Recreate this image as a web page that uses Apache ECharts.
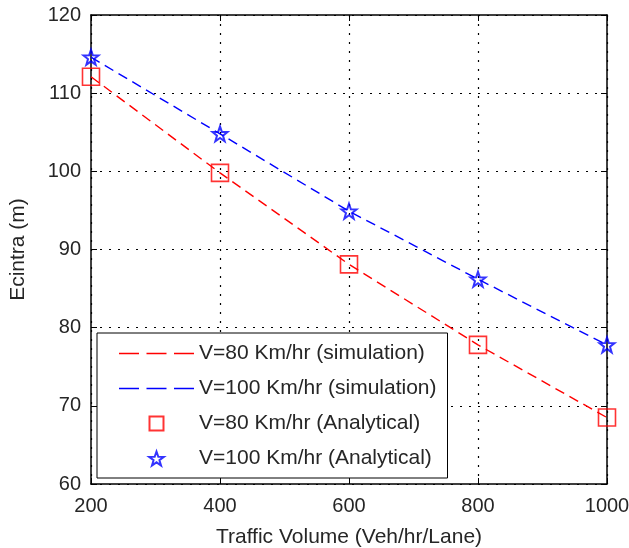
<!DOCTYPE html>
<html>
<head>
<meta charset="utf-8">
<script src="https://cdn.jsdelivr.net/npm/echarts@6/dist/echarts.min.js"></script>
<style>
  html, body { margin: 0; padding: 0; background: #fff; }
  #main { width: 629px; height: 548px; }
</style>
</head>
<body>
<div id="main"></div>
<script>
  // traffic volume (Veh/hr/Lane)
  var volume = [200, 400, 600, 800, 1000];
  var sim80 = [112.1, 99.8, 88.1, 77.8, 68.5];
  var sim100 = [114.6, 104.8, 94.9, 86.2, 77.8];
  var ana80 = [112.1, 99.8, 88.1, 77.8, 68.5];
  var ana100 = [114.6, 104.8, 94.9, 86.2, 77.8];
  var names = [
    'V=80 Km/hr (simulation)',
    'V=100 Km/hr (simulation)',
    'V=80 Km/hr (Analytical)',
    'V=100 Km/hr (Analytical)'
  ];

  function pairs(ys) {
    return volume.map(function (x, i) { return [x, ys[i]]; });
  }

  var star = 'path://M0,-10 L2.35,-3.24 L9.51,-3.09 L3.8,1.24 L5.88,8.09 L0,4 L-5.88,8.09 L-3.8,1.24 L-9.51,-3.09 L-2.35,-3.24 Z';
  var square = 'path://M0,0 L10,0 L10,10 L0,10 Z';
  var dashIcon = 'path://M0,0 H20 V1.6 H0 Z M27.5,0 H47.5 V1.6 H27.5 Z M55,0 H75 V1.6 H55 Z';
  var font = 'Liberation Sans, Arial, sans-serif';
  var ink = '#262626';

  var chart = echarts.init(document.getElementById('main'));
  chart.setOption({
    animation: false,
    backgroundColor: '#fff',
    grid: { left: 91, right: 22, top: 15, bottom: 64, outerBoundsMode: 'none', containLabel: false },
    legend: {
      orient: 'vertical',
      left: 97, top: 333,
      padding: [10, 11, 9, 22],
      itemWidth: 75, itemHeight: 14, itemGap: 14,
      backgroundColor: '#fff',
      borderColor: '#000', borderWidth: 1,
      textStyle: { fontFamily: font, fontSize: 21, color: ink, lineHeight: 20 },
      data: [
        { name: names[0], icon: dashIcon, itemStyle: { color: '#ff0000', borderWidth: 0 } },
        { name: names[1], icon: dashIcon, itemStyle: { color: '#0000ff', borderWidth: 0 } },
        { name: names[2], icon: square },
        { name: names[3], icon: star }
      ]
    },
    xAxis: [{
      type: 'value', min: 200, max: 1000, interval: 200,
      axisLine: { lineStyle: { color: '#000', width: 1.5 } },
      axisTick: { inside: true, length: 6, lineStyle: { color: '#000' } },
      axisLabel: { fontFamily: font, fontSize: 20, color: ink, margin: 12, formatter: function (v) { return String(v); } },
      splitLine: { show: true, lineStyle: { color: '#000', type: [2, 7], width: 1.2 } },
      name: 'Traffic Volume (Veh/hr/Lane)',
      nameLocation: 'middle', nameGap: 43,
      nameTextStyle: { fontFamily: font, fontSize: 21, color: ink }
    }, {
      type: 'value', position: 'top', min: 200, max: 1000, interval: 200,
      axisLine: { onZero: false, lineStyle: { color: '#000', width: 1.5 } },
      axisTick: { inside: true, length: 6, lineStyle: { color: '#000' } },
      axisLabel: { show: false }, splitLine: { show: false }
    }],
    yAxis: [{
      type: 'value', min: 60, max: 120, interval: 10,
      axisLine: { show: true, lineStyle: { color: '#000', width: 1.5 } },
      axisTick: { show: true, inside: true, length: 6, lineStyle: { color: '#000' } },
      axisLabel: { fontFamily: font, fontSize: 20, color: ink, margin: 10 },
      splitLine: { show: true, lineStyle: { color: '#000', type: [2, 7], width: 1.2 } },
      name: 'Ecintra (m)',
      nameLocation: 'middle', nameGap: 62, nameRotate: 90,
      nameTextStyle: { fontFamily: font, fontSize: 21, color: ink }
    }, {
      type: 'value', position: 'right', min: 60, max: 120, interval: 10,
      axisLine: { show: true, onZero: false, lineStyle: { color: '#000', width: 1.5 } },
      axisTick: { show: true, inside: true, length: 6, lineStyle: { color: '#000' } },
      axisLabel: { show: false }, splitLine: { show: false }
    }],
    series: [{
      name: names[0], type: 'line', symbol: 'none',
      lineStyle: { color: '#ff0000', width: 1.4, type: [10, 6] },
      itemStyle: { color: '#ff0000' },
      data: pairs(sim80)
    }, {
      name: names[1], type: 'line', symbol: 'none',
      lineStyle: { color: '#0000ff', width: 1.4, type: [10, 6] },
      itemStyle: { color: '#0000ff' },
      data: pairs(sim100)
    }, {
      name: names[2], type: 'scatter', symbol: square, symbolSize: 17,
      itemStyle: { color: 'rgba(0,0,0,0)', borderColor: '#ff0000', borderWidth: 1.6 },
      data: pairs(ana80), z: 5
    }, {
      name: names[3], type: 'scatter', symbol: star, symbolSize: 15,
      itemStyle: { color: 'rgba(0,0,0,0)', borderColor: '#0000ff', borderWidth: 2 },
      data: pairs(ana100), z: 5
    }]
  });
</script>
</body>
</html>
